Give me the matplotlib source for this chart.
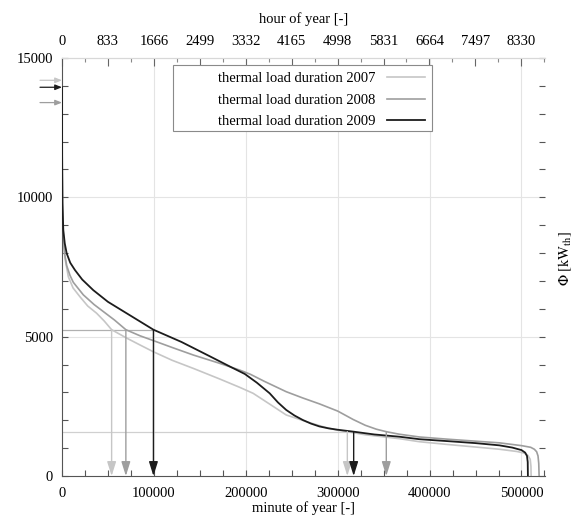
import numpy as np
import matplotlib
matplotlib.use("Agg")
import matplotlib.pyplot as plt
from matplotlib.ticker import MultipleLocator, FixedLocator
from matplotlib.patches import Rectangle

plt.rcParams["font.family"] = ["Liberation Serif", "DejaVu Serif"]
plt.rcParams["mathtext.fontset"] = "stix"

# ---- load duration curves (minute of year -> thermal load in kW) ----
years = ["2007", "2008", "2009"]

min_2007 = [0, 150, 500, 1400, 3300, 6900, 12000, 19600, 28000, 37700, 46000,
            54000, 70300, 85000, 99300, 120000, 143000, 171700, 193500, 208000,
            226000, 244000, 266000, 285000, 298500, 310500, 330000, 367000,
            389000, 420000, 450000, 476000, 495000, 503000, 507000, 509500,
            510300, 510500]
load_2007 = [14200, 11000, 9300, 8400, 7800, 7150, 6750, 6430, 6100, 5840, 5560,
             5250, 4950, 4700, 4460, 4150, 3860, 3480, 3180, 2967,
             2580, 2190, 1950, 1760, 1650, 1590, 1480, 1340,
             1230, 1130, 1040, 960, 880, 820, 740, 600,
             350, 0]

min_2008 = [0, 150, 500, 1400, 3000, 5100, 8700, 12300, 23200, 35000, 45000,
            57000, 69500, 85000, 99300, 120000, 143000, 170000, 193500, 205000,
            220000, 244000, 262000, 280000, 300000, 316700, 330000, 342000,
            352900, 367000, 389000, 420000, 450000, 476000, 500000, 510000,
            514000, 516500, 518000, 518800, 519200]
load_2008 = [13400, 11200, 9600, 8600, 7950, 7550, 7200, 6950, 6500, 6150, 5900,
             5600, 5250, 5030, 4860, 4610, 4340, 4060, 3800, 3650,
             3400, 3025, 2800, 2590, 2330, 2030, 1820, 1680,
             1590, 1500, 1400, 1320, 1250, 1190, 1090, 1030,
             960, 870, 720, 450, 0]

min_2009 = [0, 150, 500, 1400, 3000, 5100, 9000, 14100, 22000, 34000, 50000,
            70300, 99500, 130000, 160000, 185000, 199000, 212000, 226000,
            235000, 244000, 253000, 262000, 271000, 280000, 290000, 300000,
            317400, 340000, 367000, 389000, 420000, 450000, 476000, 490000,
            500000, 504000, 506000, 506800, 507000]
load_2009 = [13950, 11500, 9800, 8830, 8350, 7990, 7650, 7390, 7050, 6670, 6250,
             5840, 5250, 4810, 4310, 3890, 3660, 3350, 2967,
             2640, 2370, 2170, 2010, 1880, 1780, 1710, 1660,
             1590, 1490, 1410, 1320, 1250, 1180, 1100, 1020,
             930, 840, 720, 500, 0]

# threshold levels and where each curve crosses them
level_high = 5250
level_low = 1590
cross_high = {"2007": 54000, "2008": 69500, "2009": 99500}
cross_low = {"2007": 310500, "2008": 352900, "2009": 317400}
peaks = {"2007": 14200, "2008": 13400, "2009": 13950}

minute_ticks = [0, 100000, 200000, 300000, 400000, 500000]
hour_ticks = [0, 833, 1666, 2499, 3332, 4165, 4998, 5831, 6664, 7497, 8330]
load_ticks = [0, 5000, 10000, 15000]

curves = {"2007": (min_2007, load_2007),
          "2008": (min_2008, load_2008),
          "2009": (min_2009, load_2009)}
colors = {"2007": "#c6c6c6", "2008": "#9e9e9e", "2009": "#1c1c1c"}
widths = {"2007": 1.2, "2008": 1.2, "2009": 1.3}

fs = 10.5
fig = plt.figure(figsize=(5.79, 5.17), dpi=100)
ax = fig.add_axes([62 / 579, 1 - 476 / 517, 483 / 579, 418 / 517])

ax.set_xlim(0, 525600)
ax.set_ylim(0, 15000)

# grid
for m in minute_ticks[1:]:
    ax.axvline(m, color="#e4e4e4", lw=0.8, zorder=0)
for v in load_ticks[1:3]:
    ax.axhline(v, color="#e4e4e4", lw=0.8, zorder=0)

# helper lines for the threshold levels
ax.plot([0, cross_high["2009"]], [level_high, level_high], color="#b0b0b0", lw=0.9, zorder=1)
ax.plot([0, cross_low["2009"]], [level_low, level_low], color="#d0d0d0", lw=0.9, zorder=1)

# curves
for y in years:
    xs, ys = curves[y]
    ax.plot(xs, ys, color=colors[y], lw=widths[y], label=f"thermal load duration {y}",
            zorder=3 if y == "2009" else 2)

# arrows from threshold crossings down to the time axis
for crossings, level in ((cross_high, level_high), (cross_low, level_low)):
    for y in years:
        ax.annotate("", xy=(crossings[y], 0), xytext=(crossings[y], level),
                    arrowprops=dict(arrowstyle="-|>,head_length=0.86,head_width=0.27",
                                    mutation_scale=10, color=colors[y], lw=1.0,
                                    shrinkA=0, shrinkB=0), zorder=4)

# peak markers on the load axis
for y in years:
    ax.annotate("", xy=(0, peaks[y]), xytext=(-22, 0), textcoords="offset pixels",
                arrowprops=dict(arrowstyle="-|>,head_length=0.5,head_width=0.2",
                                mutation_scale=8, color=colors[y], lw=0.9,
                                shrinkA=0, shrinkB=0),
                annotation_clip=False)

# axes styling
ax.xaxis.set_major_locator(FixedLocator(minute_ticks))
ax.xaxis.set_minor_locator(MultipleLocator(25000))
ax.yaxis.set_major_locator(FixedLocator(load_ticks))
ax.yaxis.set_minor_locator(MultipleLocator(1000))
ax.set_xticklabels([str(m) for m in minute_ticks])
ax.set_yticklabels([str(v) for v in load_ticks])
ax.tick_params(which="both", direction="in", top=False, right=True, labelright=False,
               colors="#555555", labelcolor="black", labelsize=fs, width=0.8)
ax.tick_params(axis="x", which="both", length=4, pad=8)
ax.tick_params(axis="y", which="both", length=4, pad=6.5)
ax.spines["left"].set_color("#555555")
ax.spines["bottom"].set_color("#555555")
ax.spines["top"].set_color("#d8d8d8")
ax.spines["right"].set_color("none")
ax.set_xlabel("minute of year [-]", fontsize=fs, labelpad=1)

sec = ax.secondary_xaxis("top", functions=(lambda m: m / 60.0, lambda h: h * 60.0))
sec.xaxis.set_major_locator(FixedLocator(hour_ticks))
sec.xaxis.set_minor_locator(FixedLocator([h + 416.5 for h in hour_ticks]))
sec.set_xticklabels([str(h) for h in hour_ticks])
sec.tick_params(which="major", direction="in", length=6, width=0.8, colors="#666666",
                labelcolor="black", labelsize=fs, pad=7)
sec.tick_params(which="minor", direction="in", length=3, width=0.8, colors="#888888")
sec.spines["top"].set_color("#d8d8d8")
sec.set_xlabel("hour of year [-]", fontsize=fs, labelpad=9)

fig.text(565 / 579, 1 - 258 / 517, r"$\Phi\ [\mathrm{kW_{th}}]$", rotation=90,
         ha="center", va="center", fontsize=fs)

# legend: entries right-aligned inside a wider frame
frame = Rectangle((173 / 579, 1 - 131 / 517), (432 - 173) / 579, (131 - 65) / 517,
                  transform=fig.transFigure, facecolor="white", edgecolor="#8a8a8a",
                  lw=0.8, zorder=5, clip_on=False)
ax.add_artist(frame)
leg = ax.legend(loc="upper right", bbox_to_anchor=(432 / 579, 1 - 64.5 / 517),
                bbox_transform=fig.transFigure, borderaxespad=0, fontsize=fs,
                markerfirst=False, handlelength=2.6, frameon=False,
                labelspacing=0.58, borderpad=0.5)
leg.set_zorder(6)

fig.savefig("out.png", dpi=100)
